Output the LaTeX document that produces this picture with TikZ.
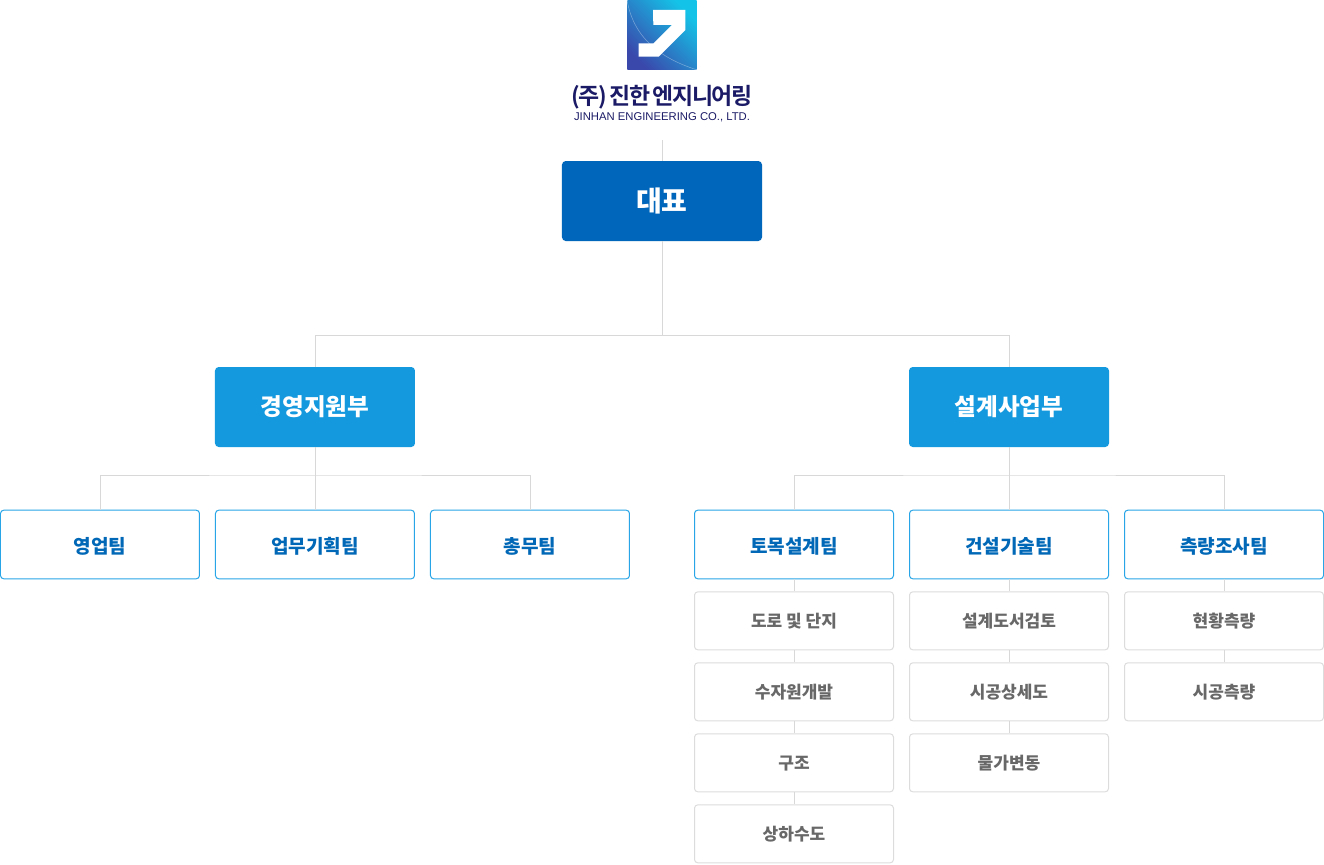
\documentclass[tikz,border=0pt]{standalone}
\usepackage{fontspec}
\setsansfont{Liberation Sans}
\newfontfamily\krfont{Noto Sans CJK KR}
\newfontfamily\krtight[LetterSpace=-6,WordSpace=0.6]{Noto Sans CJK KR Bold}
\usetikzlibrary{positioning, calc}
\definecolor{ceoblue}{RGB}{0,102,187}
\definecolor{deptblue}{RGB}{20,153,223}
\definecolor{teamline}{RGB}{40,165,230}
\definecolor{teamtext}{RGB}{0,104,183}
\definecolor{subgray}{RGB}{220,220,220}
\definecolor{subtext}{RGB}{104,104,104}
\definecolor{linegray}{RGB}{216,216,216}
\definecolor{logonavy}{RGB}{26,26,102}
\definecolor{logocyan}{RGB}{20,196,232}
\definecolor{logodark}{RGB}{58,72,172}
\tikzset{
  ceoblock/.style={rectangle, draw=ceoblue, fill=ceoblue, text=white,
    minimum width=149.25pt, minimum height=59.25pt, align=center,
    font=\krfont\bfseries\fontsize{21}{24}\selectfont, rounded corners=2.5pt, line width=0.75pt},
  deptblock/.style={rectangle, draw=deptblue, fill=deptblue, text=white,
    minimum width=149.25pt, minimum height=59.25pt, align=center,
    font=\krfont\bfseries\fontsize{17.7}{21}\selectfont, rounded corners=2.5pt, line width=0.75pt},
  teamblock/.style={rectangle, draw=teamline, fill=white, text=teamtext,
    minimum width=149.25pt, minimum height=51.5pt, align=center, text height=15.4pt, text depth=2.4pt,
    font=\krfont\bfseries\fontsize{14.3}{17}\selectfont, rounded corners=2.5pt, line width=0.75pt},
  subblock/.style={rectangle, draw=subgray, fill=white, text=subtext,
    minimum width=149.25pt, minimum height=43.5pt, align=center, text height=13pt, text depth=2.3pt,
    font=\krfont\bfseries\fontsize{12.75}{15}\selectfont, rounded corners=2.5pt, line width=0.75pt},
  connline/.style={color=linegray, line width=0.75pt, transform canvas={xshift=0.375pt}}
}
\begin{document}
\begin{tikzpicture}[node distance=9pt and 11.25pt]
  \useasboundingbox (-496.5pt,150.75pt) rectangle (496.5pt,-497.25pt);

  \node[ceoblock] (ceo) {대표};
  \node[deptblock, below left=94.5pt and 110.25pt of ceo] (mgmt) {경영지원부};
  \node[deptblock, below right=94.5pt and 110.25pt of ceo] (design) {설계사업부};

  % teams
  \node[teamblock, below=47pt of mgmt] (plan) {업무기획팀};
  \node[teamblock, left=of plan] (sales) {영업팀};
  \node[teamblock, right=of plan] (admin) {총무팀};
  \node[teamblock, below=47pt of design] (build) {건설기술팀};
  \node[teamblock, left=of build] (civil) {토목설계팀};
  \node[teamblock, right=of build] (survey) {측량조사팀};

  % sub tasks
  \node[subblock, below=of civil] (road) {도로 및 단지};
  \node[subblock, below=of road] (water) {수자원개발};
  \node[subblock, below=of water] (struct) {구조};
  \node[subblock, below=of struct] (sewer) {상하수도};
  \node[subblock, below=of build] (review) {설계도서검토};
  \node[subblock, below=of review] (detail) {시공상세도};
  \node[subblock, below=of detail] (price) {물가변동};
  \node[subblock, below=of survey] (site) {현황측량};
  \node[subblock, below=of site] (work) {시공측량};

  % logo
  \coordinate (top) at ($(ceo.north)+(0,15.75pt)$);
  \node[inner sep=0pt, font=\sffamily\fontsize{8.46}{10}\selectfont, text=logonavy, above=13pt of top] (enname) {JINHAN ENGINEERING CO., LTD.};
  \node[inner sep=0pt, font=\krtight\fontsize{17.2}{20}\selectfont, text=logonavy, above=2.5pt of enname] (krname) {(주) 진한 엔지니어링};
  \node[rectangle, minimum size=52pt, inner sep=0pt, left color=logodark, right color=logocyan, shading angle=135, anchor=north] (logo) at (0,150.75pt) {};
  \draw[white, opacity=0.35, line width=0.4pt] (logo.north west) .. controls ($(logo.north west)+(5pt,-30pt)$) and ($(logo.south east)+(-25pt,8pt)$) .. (logo.south east);
  \fill[white] ($(logo.center)+(-6.75pt,18.75pt)$) -- ++(24.25pt,0) -- ++(0,-15pt) -- ++(-20pt,-20pt) -- ++(-15pt,0) -- ++(0,10pt) -- ++(11.25pt,0) -- ++(13.75pt,13.75pt) -- ++(-14pt,0) -- cycle;

  % connectors
  \coordinate (ceohub) at ($(ceo.south)+(0,-70.875pt)$);
  \coordinate (mgmthub) at ($(mgmt.south)+(0,-21pt)$);
  \coordinate (designhub) at ($(design.south)+(0,-21pt)$);
  \draw[connline] (top) -- (ceo.north);
  \draw[connline] (ceo.south) -- (ceohub);
  \draw[connline] (mgmt.north) |- (ceohub) -| (design.north);
  \draw[connline] (mgmt.south) -- (plan.north);
  \draw[connline] (sales.north) |- (mgmthub) -| (admin.north);
  \draw[connline] (design.south) -- (build.north);
  \draw[connline] (civil.north) |- (designhub) -| (survey.north);
  \draw[connline] (civil) -- (road);
  \draw[connline] (road) -- (water);
  \draw[connline] (water) -- (struct);
  \draw[connline] (struct) -- (sewer);
  \draw[connline] (build) -- (review);
  \draw[connline] (review) -- (detail);
  \draw[connline] (detail) -- (price);
  \draw[connline] (survey) -- (site);
  \draw[connline] (site) -- (work);
\end{tikzpicture}
\end{document}
